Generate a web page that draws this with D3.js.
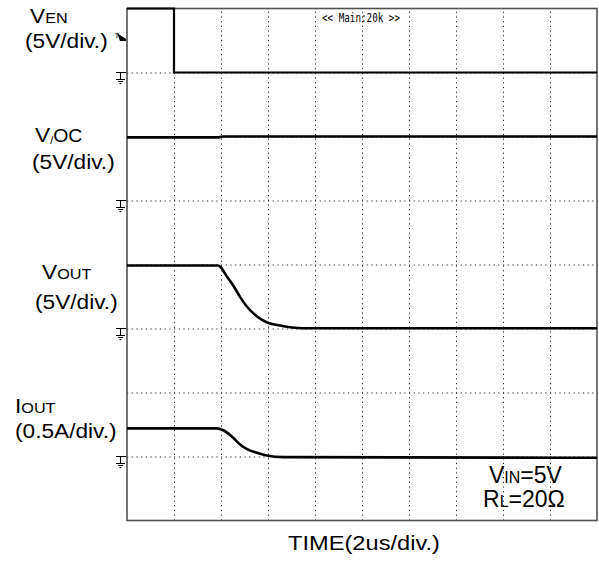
<!DOCTYPE html>
<html><head><meta charset="utf-8">
<script src="https://cdn.jsdelivr.net/npm/d3@7"></script>
<style>
body{margin:0;background:#fff}
svg{display:block}
text{font-family:"Liberation Sans",Arial,Helvetica,sans-serif;fill:#000}
</style>
</head><body>
<svg id="c" width="599" height="562"></svg>
<script>
// ---- data (time in us, values in channel units) ----
const venT  = [0, 2.0, 2.0, 20];
const venV  = [5, 5, 0, 0];
const vocT  = [0, 3.9, 4.1, 20];
const vocV  = [4.93, 4.93, 5.0, 5.0];
const voutT = [0, 3.87, 4.0, 4.24, 4.54, 4.81, 5.09, 5.52, 5.94, 6.51, 6.94, 7.5, 20];
const voutV = [4.92, 4.92, 4.77, 4.09, 3.30, 2.47, 1.74, 0.96, 0.49, 0.23, 0.10, 0.02, 0.02];
const ioutT = [0, 3.82, 4.10, 4.52, 4.81, 5.09, 5.52, 5.94, 6.65, 20];
const ioutA = [0.22, 0.22, 0.205, 0.146, 0.094, 0.06, 0.029, 0.008, -0.005, -0.01];

const channelMain  = ["V", "V", "V", "I"];
const channelSub   = ["EN", "OC", "OUT", "OUT"];
const channelScale = ["(5V/div.)", "(5V/div.)", "(5V/div.)", "(0.5A/div.)"];
const groundDiv    = [7, 5, 3, 1];
const unitsPerDiv  = [5, 5, 5, 0.5];
const timeGridTicks = [2, 4, 6, 8, 10, 12, 14, 16, 18];
const divGridTicks  = [1, 2, 3, 4, 5, 6, 7];
const timeLabel = "TIME(2us/div.)";
const scopeLabel = "<< Main:20k >>";

// ---- layout ----
const L = 127, R = 597, T = 8.5, B = 520.5;
const svg = d3.select("#c");
const x = d3.scaleLinear().domain([0, 20]).range([L, R]);
const y = d3.scaleLinear().domain([0, 8]).range([B, T]);

svg.append("rect").attr("width", 599).attr("height", 562).attr("fill", "#fff");

// grid via axes
const gx = svg.append("g").attr("transform", `translate(0,${B})`)
  .call(d3.axisBottom(x).tickValues(timeGridTicks).tickSize(-(B - T)).tickFormat(""));
const gy = svg.append("g").attr("transform", `translate(${L},0)`)
  .call(d3.axisLeft(y).tickValues(divGridTicks).tickSize(-(R - L)).tickFormat(""));
[gx, gy].forEach(g => {
  g.select(".domain").remove();
  g.selectAll(".tick line").attr("stroke", "#222").attr("stroke-width", 1)
    .attr("stroke-dasharray", "1.2,3.5");
});

// frame
svg.append("rect").attr("x", L).attr("y", T).attr("width", R - L).attr("height", B - T)
  .attr("fill", "none").attr("stroke", "#505050").attr("stroke-width", 1.6);

// traces
const series = [
  venT.map((t, i) => ({t, v: venV[i]})),
  vocT.map((t, i) => ({t, v: vocV[i]})),
  voutT.map((t, i) => ({t, v: voutV[i]})),
  ioutT.map((t, i) => ({t, v: ioutA[i]}))
];
series.forEach((data, c) => {
  const line = d3.line()
    .x(d => x(d.t))
    .y(d => y(groundDiv[c] + d.v / unitsPerDiv[c]))
    .curve(c >= 2 ? d3.curveMonotoneX : d3.curveLinear);
  svg.append("path").datum(data).attr("d", line)
    .attr("fill", "none").attr("stroke", "#000").attr("stroke-width", c === 0 ? 2.2 : 2.6)
    .attr("stroke-linejoin", "miter");
});

// ground markers
groundDiv.forEach(g => {
  const y0 = y(g);
  const gg = svg.append("g").attr("stroke", "#000").attr("stroke-width", 1).attr("fill", "none");
  gg.append("line").attr("x1", 116).attr("x2", 126).attr("y1", y0).attr("y2", y0);
  gg.append("line").attr("x1", 120.5).attr("x2", 120.5).attr("y1", y0).attr("y2", y0 + 7);
  gg.append("line").attr("x1", 116).attr("x2", 125).attr("y1", y0 + 7).attr("y2", y0 + 7);
  gg.append("line").attr("x1", 118).attr("x2", 123).attr("y1", y0 + 9).attr("y2", y0 + 9);
  gg.append("line").attr("x1", 119.5).attr("x2", 121.5).attr("y1", y0 + 11).attr("y2", y0 + 11);
});

// trigger marker
svg.append("text").attr("x", 114.5).attr("y", 38).attr("font-size", 8).text("T");
svg.append("path").attr("d", "M117,33 L126,39 L126,41 L120,41 Z").attr("fill", "#000");

// scope label
svg.append("text").attr("x", 322).attr("y", 21.5)
  .style("font-family", "'DejaVu Sans Mono',monospace")
  .attr("font-size", 11.5).attr("fill", "#222").attr("textLength", 78)
  .attr("lengthAdjust", "spacingAndGlyphs").text(scopeLabel);

// channel labels
const line1 = [[30, 23], [35, 142], [42, 279], [15, 413]];
const line2 = [[25, 48], [32, 169], [35, 309], [15, 438]];
channelMain.forEach((m, i) => {
  const g1 = svg.append("g").attr("transform", `translate(${line1[i][0]},${line1[i][1]}) scale(1.08,1)`);
  const t1 = g1.append("text");
  t1.append("tspan").attr("font-size", 21).text(m);
  if (i === 1) {
    t1.append("tspan").attr("font-size", 10).attr("dy", 2).text("/");
    t1.append("tspan").attr("font-size", 18).attr("dy", -2).text(channelSub[i]);
  } else {
    t1.append("tspan").attr("font-size", 15).text(channelSub[i]);
  }
  const g2 = svg.append("g").attr("transform", `translate(${line2[i][0]},${line2[i][1]}) scale(1.08,1)`);
  g2.append("text").attr("font-size", 21).text(channelScale[i]);
});

// conditions
const c1 = svg.append("text").attr("x", 489).attr("y", 483);
c1.append("tspan").attr("font-size", 23).text("V");
c1.append("tspan").attr("font-size", 16).text("IN");
c1.append("tspan").attr("font-size", 23).text("=5V");
const c2 = svg.append("text").attr("x", 483).attr("y", 507);
c2.append("tspan").attr("font-size", 23).text("R");
c2.append("tspan").attr("font-size", 16).text("L");
c2.append("tspan").attr("font-size", 23).text("=20Ω");

// x label
svg.append("text").attr("x", 288).attr("y", 550).attr("font-size", 20.5)
  .attr("textLength", 152).attr("lengthAdjust", "spacingAndGlyphs").text(timeLabel);
</script>
</body></html>
